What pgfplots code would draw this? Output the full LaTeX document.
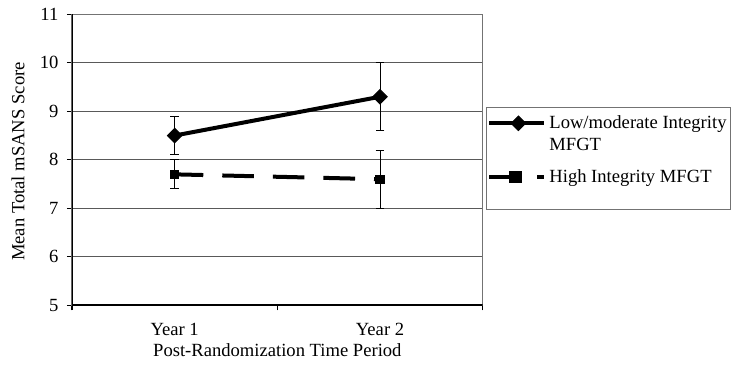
\documentclass[border=0pt]{standalone}
\usepackage{fontspec}
\setmainfont{Liberation Serif}
\usepackage{pgfplots}
\pgfplotsset{compat=1.18}
\begin{document}
\fontsize{9.3}{11.15}\selectfont
\begin{tikzpicture}
\begin{axis}[
  at={(0,0)}, anchor=south west,
  scale only axis,
  width=205.35pt, height=145.5pt,
  xmin=0.5, xmax=2.5, ymin=5, ymax=11,
  xtick={1,2}, xticklabels={Year 1, Year 2},
  minor xtick={0.5,1.5,2.5},
  ytick={5,6,7,8,9,10,11},
  xtick pos=bottom, ytick pos=left,
  /pgf/number format/assume math mode=true,
  ymajorgrids, grid style={black!65, line width=0.5pt},
  axis line style={black!55, line width=0.5pt},
  tick align=outside, major tick length=2.5pt, minor tick length=2.5pt,
  tick style={black, line width=0.6pt},
  every major x tick/.style={draw=none},
  xticklabel style={yshift=-3pt},
  yticklabel style={xshift=-1pt},
  xlabel={Post-Randomization Time Period},
  ylabel={Mean Total mSANS Score},
  xlabel style={at={(axis description cs:0.5,0)}, anchor=north, yshift=-15.9pt},
  ylabel style={at={(axis description cs:-0.0993,0.494)}, anchor=south, rotate=0},
  legend cell align=left,
  legend style={at={(axis description cs:1.0073,0.6804)}, anchor=north west,
    draw=black!55, line width=0.5pt, inner xsep=0.6pt, inner ysep=2.35pt,
    row sep=4.9pt,
    nodes={inner sep=1.5pt, text depth=0.15em, align=left}},
]
\addplot[black, line width=2pt, mark=square*, mark size=2.55pt,
  mark options={rotate=45, solid, line width=0.5pt},
  legend image code/.code={%
    \draw[mark repeat=2, mark phase=2] plot coordinates {(0pt,5.6pt) (14.5pt,5.6pt) (27.5pt,5.6pt)};},
  error bars/.cd, y dir=both, y explicit,
  error bar style={line width=0.5pt, solid},
  error mark options={rotate=90, mark size=2.15pt, line width=0.5pt, solid}]
  coordinates {(1,8.5) +- (0,0.4) (2,9.3) +- (0,0.7)};
\addlegendentry{Low/moderate Integrity\\MFGT}
\addplot[black, line width=2pt, dash pattern=on 15.8pt off 9.5pt, dash phase=1.5pt,
  mark=square*, mark size=2.1pt, mark options={solid, line width=0.5pt},
  legend image code/.code={%
    \draw[dash pattern=on 15.8pt off 9.5pt, dash phase=0pt] (0pt,0pt) -- (27.5pt,0pt);
    \draw[mark repeat=2, mark phase=2] plot[mark options={solid}] coordinates {(0pt,0pt) (13pt,0pt) (27.5pt,0pt)};},
  error bars/.cd, y dir=both, y explicit,
  error bar style={line width=0.5pt, solid},
  error mark options={rotate=90, mark size=2.15pt, line width=0.5pt, solid}]
  coordinates {(1,7.7) +- (0,0.3) (2,7.6) +- (0,0.6)};
\addlegendentry{High Integrity MFGT}
\addlegendimage{empty legend}
\addlegendentry[inner sep=1pt]{}
\draw[black, line width=1pt] (rel axis cs:0,1) -- (rel axis cs:0,0) -- (rel axis cs:1,0);
\end{axis}
\pgfresetboundingbox
\path[use as bounding box] (-36pt,-31.85pt) rectangle (329.5pt,152.65pt);
\end{tikzpicture}
\end{document}
